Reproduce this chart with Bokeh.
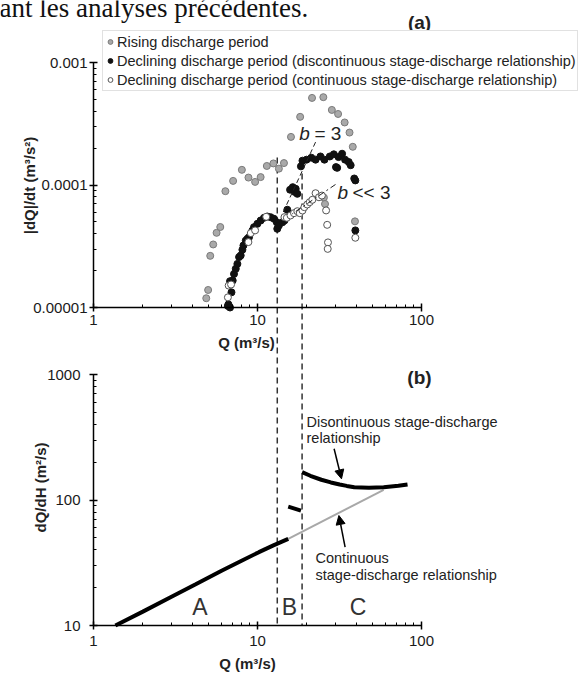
import math
from bokeh.plotting import figure
from bokeh.models import (Range1d, LogAxis, LogScale, FixedTicker, CustomJSTickFormatter,
                          Label, Arrow, NormalHead, Legend, LegendItem)
from bokeh.embed import file_html
from bokeh.resources import INLINE

# ---------------- data: panel (a)  |dQ/dt| vs Q ----------------
rise_q = [4.87, 5.0, 5.15, 5.37, 5.63, 5.93, 6.37, 7.10, 8.03, 8.81, 9.67, 10.45, 11.4,
          12.5, 13.5, 14.5, 16.0, 18.2, 21.5, 25.2, 28.4, 31.0, 34.0, 36.4, 38.1, 25.4,
          25.8, 39.3]
rise_v = [1.19e-5, 1.39e-5, 2.64e-5, 3.27e-5, 4.07e-5, 4.54e-5, 8.9e-5, 1.08e-4, 1.33e-4,
          1.15e-4, 1.06e-4, 1.16e-4, 1.43e-4, 1.50e-4, 1.36e-4, 1.51e-4, 2.47e-4, 3.60e-4,
          5.14e-4, 5.21e-4, 4.10e-4, 3.80e-4, 3.24e-4, 2.68e-4, 2.05e-4, 7.9e-5, 7.0e-5,
          5.05e-5]

disc_q = [6.6, 6.65, 6.80, 6.94, 6.80, 7.06, 7.19, 7.37, 7.54, 7.72, 7.90, 8.09, 8.21, 8.48,
          8.68, 8.88, 9.31, 9.52, 9.98, 10.45, 10.96, 11.48, 12.03, 12.61, 13.1, 13.2, 13.5,
          14.2, 14.6, 15.2, 15.8, 16.4, 16.9, 17.1, 17.5, 18.4, 18.8, 19.9, 21.3, 22.6, 24.2,
          25.6, 27.6, 29.2, 30.1, 30.6, 31.2, 32.8, 34.2, 36.0, 37.0, 38.9, 39.5, 39.5]
disc_v = [1.03e-5, 1.06e-5, 1.0e-5, 1.33e-5, 1.64e-5, 1.66e-5, 1.88e-5, 2.07e-5, 2.27e-5,
          2.58e-5, 2.66e-5, 2.96e-5, 3.21e-5, 3.52e-5, 3.64e-5, 3.75e-5, 4.25e-5, 4.53e-5,
          4.82e-5, 5.13e-5, 5.40e-5, 5.53e-5, 5.46e-5, 5.30e-5, 4.97e-5, 4.39e-5, 4.67e-5,
          4.97e-5, 5.13e-5, 6.28e-5, 9.15e-5, 9.60e-5, 8.77e-5, 9.31e-5, 8.47e-5, 1.42e-4,
          1.58e-4, 1.61e-4, 1.67e-4, 1.61e-4, 1.71e-4, 1.61e-4, 1.71e-4, 1.78e-4, 1.40e-4,
          1.38e-4, 1.69e-4, 1.80e-4, 1.61e-4, 1.54e-4, 1.45e-4, 1.13e-4, 1.09e-4, 4.26e-5]

cont_q = [6.6, 6.67, 6.9, 8.8, 9.1, 9.67, 11.3, 14.6, 15.1, 15.9, 16.7, 17.5, 18.1, 18.8,
          19.3, 20.1, 20.8, 21.6, 22.6, 23.7, 24.7, 26.2, 26.6, 26.9, 26.8, 39.5]
cont_v = [1.21e-5, 1.51e-5, 1.54e-5, 3.42e-5, 4.05e-5, 4.26e-5, 5.5e-5, 5.47e-5, 5.4e-5,
          5.64e-5, 5.89e-5, 6.11e-5, 5.89e-5, 6.19e-5, 6.59e-5, 6.93e-5, 7.24e-5, 7.57e-5,
          8.57e-5, 7.94e-5, 8.2e-5, 6.2e-5, 4.73e-5, 3.40e-5, 3.01e-5, 3.71e-5]

# guide lines of panel (a)
b3_q = [22.6, 14.2]
b3_v = [2.24e-4, 5.83e-5]
bll3_q = [29.9, 16.3]
bll3_v = [1.01e-4, 5.82e-5]

# boundaries between zones A / B / C (dashed verticals)
break_q = [13.2, 18.7]
break_top = [1.68e-4, 1.50e-4]

# ---------------- data: panel (b)  dQ/dH vs Q ----------------
zone_a_q = [1.36, 2.0, 2.95, 4.2, 6.08, 8.0, 10.2, 12.5, 15.4]
zone_a_v = [10.0, 12.9, 16.8, 21.3, 27.4, 32.8, 38.4, 43.5, 49.0]
cont_line_q = [15.4, 58.8]
cont_line_v = [49.0, 120.5]
zone_b_q = [15.4, 18.4]
zone_b_v = [88.7, 82.4]
zone_c_q = [18.7, 21.0, 24.5, 28.0, 31.7, 35.0, 38.9, 47.8, 58.8, 72.3, 82.2]
zone_c_v = [166.7, 156.0, 145.0, 138.0, 133.0, 129.5, 126.5, 125.0, 126.5, 129.7, 133.0]

# tick labels
x_ticks = [1, 10, 100]
a_ticks = [1e-5, 1e-4, 1e-3]
b_ticks = [10, 100, 1000]

# ---------------- layout constants (canvas pixels) ----------------
FONT = "Liberation Sans"
W, H = 579, 675
X_LEFT, X_DEC = 93.0, 164.0       # x of Q=1, px per decade
A_BASE, A_DEC = 307.0, 122.5      # y of 1e-5 in panel (a), px per decade
B_BASE, B_DEC = 625.0, 125.5      # y of 10 in panel (b), px per decade


def qx(px):
    return 10 ** ((px - X_LEFT) / X_DEC)


def ya(py):
    return 10 ** (-5 + (A_BASE - py) / A_DEC)


def yb(py):
    return 10 ** (1 + (B_BASE - py) / B_DEC)


p = figure(width=W, height=H, output_backend="svg", toolbar_location=None,
           x_axis_type="log", y_axis_type="log",
           x_range=Range1d(qx(0), qx(W)), y_range=Range1d(yb(H), yb(0)),
           min_border_left=0, min_border_right=0, min_border_top=0, min_border_bottom=0)
p.extra_y_ranges = {"a": Range1d(ya(H), ya(0))}
p.extra_y_scales = {"a": LogScale()}
p.outline_line_color = None
p.grid.visible = False
p.background_fill_color = "white"
p.border_fill_color = "white"


def minors(lo_exp, hi_exp):
    return [k * 10.0 ** d for d in range(lo_exp, hi_exp) for k in range(2, 10)]


def style(ax, ticks, minor, standoff):
    ax.ticker = FixedTicker(ticks=ticks, minor_ticks=minor)
    ax.formatter = CustomJSTickFormatter(code="return tick.toString()")
    ax.major_tick_in = 4
    ax.major_tick_out = 4
    ax.minor_tick_in = 3
    ax.minor_tick_out = 0
    ax.axis_line_width = 1.5
    ax.major_tick_line_width = 1.5
    ax.minor_tick_line_width = 1
    ax.axis_line_color = "black"
    ax.major_tick_line_color = "black"
    ax.minor_tick_line_color = "black"
    ax.major_label_text_font = FONT
    ax.major_label_text_font_size = "15px"
    ax.major_label_text_color = "#1a1a1a"
    ax.major_label_standoff = standoff


# panel (b) axes
xb = p.xaxis[0]
xb.fixed_location = 10
xb.bounds = (1, 100)
style(xb, x_ticks, minors(0, 2), 6)
ybx = p.yaxis[0]
ybx.fixed_location = 1
ybx.bounds = (10, 1000)
style(ybx, b_ticks, minors(1, 3), 9)

# panel (a) axes
ya_ax = LogAxis(y_range_name="a", fixed_location=1, bounds=(1e-5, 1e-3))
style(ya_ax, a_ticks, minors(-5, -3), 2)
p.add_layout(ya_ax, "left")
xa_ax = LogAxis(y_range_name="a", fixed_location=1e-5, bounds=(1, 100))
style(xa_ax, x_ticks, minors(0, 2), 3)
p.add_layout(xa_ax, "below")

# dashed zone boundaries (run through both panels down to panel (b) axis)
p.segment(x0=break_q, y0=break_top, x1=break_q, y1=[ya(B_BASE)] * len(break_q),
          y_range_name="a", line_color="#333333", line_width=1.5, line_dash="6 4")

# panel (a) scatter
r_rise = p.scatter(rise_q, rise_v, y_range_name="a", size=7, fill_color="#a9a9a9",
                   line_color="#7a7a7a", line_width=1)
r_disc = p.scatter(disc_q, disc_v, y_range_name="a", size=7, fill_color="#111111",
                   line_color="#111111", line_width=1)
r_cont = p.scatter(cont_q, cont_v, y_range_name="a", size=7, fill_color="white",
                   line_color="#555555", line_width=1)

p.line(b3_q, b3_v, y_range_name="a", line_color="#222222", line_width=1, line_dash="5 3")
p.line(bll3_q, bll3_v, y_range_name="a", line_color="#222222", line_width=1, line_dash="6 3 2 3")

legend = Legend(items=[
    LegendItem(label="Rising discharge period", renderers=[r_rise]),
    LegendItem(label="Declining discharge period (discontinuous stage-discharge relationship)",
               renderers=[r_disc]),
    LegendItem(label="Declining discharge period (continuous stage-discharge relationship)",
               renderers=[r_cont]),
], location=(102, H - 91), orientation="vertical",
    label_text_font=FONT, label_text_font_size="14.5px", label_text_color="#222222",
    glyph_width=12, glyph_height=19, label_height=19, label_standoff=1,
    spacing=0, padding=1, margin=0,
    border_line_color="#c4c4c4", border_line_width=1,
    background_fill_color="white", background_fill_alpha=1)
p.add_layout(legend)

# panel (b) lines
p.line(cont_line_q, cont_line_v, line_color="#a8a8a8", line_width=2)
p.line(zone_a_q, zone_a_v, line_color="black", line_width=4)
p.line(zone_b_q, zone_b_v, line_color="black", line_width=4)
p.line(zone_c_q, zone_c_v, line_color="black", line_width=4)


def lab(text, px, py, size="14.5px", align="left", style_="normal", angle=0.0,
        color="#222222", font=FONT, baseline="middle"):
    p.add_layout(Label(x=qx(px), y=yb(py), text=text, text_font=font, text_font_size=size,
                       text_align=align, text_baseline=baseline, text_font_style=style_,
                       angle=angle, text_color=color))


# fragment of the surrounding document's text (cut at the top of the image)
lab("ant les analyses précédentes.", -1, 7, size="27px", font="Liberation Serif",
    baseline="alphabetic", color="#111111")

# panel titles
lab("(a)", 419, 21.5, size="19px", align="center", style_="bold")
lab("(b)", 419, 377, size="19px", align="center", style_="bold")

# axis titles
lab("|dQ|/dt (m³/s²)", 29, 185, size="15px", align="center", style_="bold", angle=math.pi / 2)
lab("Q (m³/s)", 246, 341.5, size="15px", align="center", style_="bold")
lab("dQ/dH (m²/s)", 40, 487, size="15px", align="center", style_="bold", angle=math.pi / 2)
lab("Q (m³/s)", 247, 663, size="15px", align="center", style_="bold")

# exponent annotations in panel (a)
lab("b", 298.7, 133, size="19px", style_="italic")
lab("= 3", 314, 133, size="19px")
lab("b", 337, 191.7, size="19px", style_="italic")
lab("<< 3", 352, 191.7, size="19px")

# zone letters
lab("A", 199.5, 606.7, size="23px", align="center", color="#333333")
lab("B", 288.8, 606.7, size="23px", align="center", color="#333333")
lab("C", 357.5, 606.7, size="23px", align="center", color="#333333")

# panel (b) annotations
lab("Disontinuous stage-discharge", 306, 421.7)
lab("relationship", 306, 437.7)
lab("Continuous", 315, 557.7)
lab("stage-discharge relationship", 315, 574.3)

p.add_layout(Arrow(x_start=qx(333.6), y_start=yb(448.3), x_end=qx(341), y_end=yb(478.3),
                   line_width=1.5, line_color="black",
                   end=NormalHead(size=9, fill_color="black", line_color="black")))
p.add_layout(Arrow(x_start=qx(344.6), y_start=yb(546.7), x_end=qx(338.4), y_end=yb(515),
                   line_width=1.5, line_color="black",
                   end=NormalHead(size=9, fill_color="black", line_color="black")))

open("out.html", "w").write(file_html(p, INLINE))
